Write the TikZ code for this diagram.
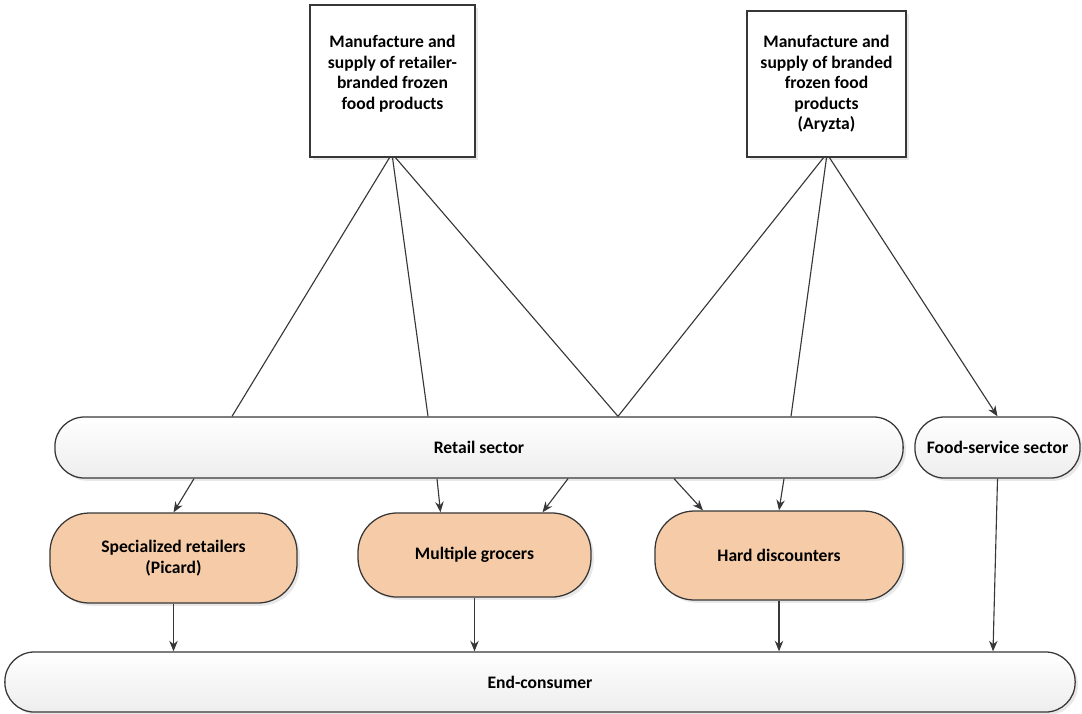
\documentclass[tikz,border=0pt]{standalone}
\usepackage{fontspec}
\setmainfont{Carlito}
\usepackage{tikz}
\usetikzlibrary{calc}
\usetikzlibrary{shadows}
\usetikzlibrary{arrows.meta}
\definecolor{peach}{RGB}{246,204,168}
\definecolor{linegray}{RGB}{55,55,55}

\begin{document}
\begin{tikzpicture}[x=0.025cm,y=-0.025cm]
		\tikzstyle{boxtext}=[font=\fontsize{12.5}{14.6}\selectfont\bfseries, align=center]
		\tikzstyle{maker}=[boxtext, draw=linegray, fill=white, line width=.9pt, drop shadow={shadow xshift=2pt, shadow yshift=-2pt, fill=black!18}]
		\tikzstyle{sector}=[boxtext, draw=linegray, top color=white, bottom color=black!7, line width=.9pt, minimum height=43.4pt, rounded corners=21pt, drop shadow={shadow xshift=2pt, shadow yshift=-2pt, fill=black!18}]
		\tikzstyle{shop}=[boxtext, draw=linegray, fill=peach, line width=.9pt, rounded corners=28pt, drop shadow={shadow xshift=2pt, shadow yshift=-2pt, fill=black!18}]
		\tikzstyle{link}=[draw=linegray, line width=.8pt]
		\tikzstyle{flow}=[link, -{Stealth[length=7.5pt, width=6pt]}]
		\useasboundingbox (0,0) rectangle (1082,713);

		% suppliers
		\node[maker, minimum width=117.4pt, minimum height=108.1pt] (mfr1) at (392.5,81) {Manufacture and\\supply of retailer-\\branded frozen\\food products\\[-2pt]};
		\node[maker, minimum width=113.1pt, minimum height=103.9pt] (mfr2) at (826.5,84) {Manufacture and\\supply of branded\\frozen food\\products\\(Aryzta)};

		% sectors
		\node[sector, minimum width=603.2pt] (retail) at (479,447.5) {Retail sector};
		\node[sector, minimum width=117.4pt] (food) at (997.5,447.5) {Food-service sector};

		% retail formats
		\node[shop, minimum width=175.7pt, minimum height=64pt] (spec) at (173.5,558) {Specialized retailers\\(Picard)};
		\node[shop, minimum width=165.7pt, minimum height=59.8pt] (grocer) at (474.5,555) {Multiple grocers};
		\node[shop, minimum width=176.4pt, minimum height=63.3pt] (hard) at (779,555.5) {Hard discounters};

		\node[sector, minimum width=761.1pt, minimum height=42.7pt] (end) at (540,682) {End-consumer};

		\coordinate (r1) at ($(retail.north)+(-247,0)$);
		\coordinate (r2) at ($(retail.north)+(-51,0)$);
		\coordinate (r3) at ($(retail.north)+(139,0)$);
		\coordinate (r4) at ($(retail.north)+(312,0)$);

		\draw[link] ($(mfr1.south)+(-3,0)$) -- (r1);
		\draw[link] (mfr1.south) -- (r2);
		\draw[link] ($(mfr1.south)+(3,0)$) -- (r3);
		\draw[link] ($(mfr2.south)+(-3,0)$) -- (r3);
		\draw[link] (mfr2.south) -- (r4);
		\draw[flow] ($(mfr2.south)+(3,0)$) -- (food.north);

		% retail sector to formats
		\draw[flow] ($(retail.south)+(-285,0)$) -- (spec.north);
		\draw[flow] ($(retail.south)+(-42,0)$) -- ($(grocer.north)+(-34,0)$);
		\draw[flow] ($(retail.south)+(89,0)$) -- ($(grocer.north)+(68,0)$);
		\draw[flow] ($(retail.south)+(195,0)$) -- ($(hard.north)+(-76,0)$);
		\draw[flow] ($(retail.south)+(305,0)$) -- (hard.north);

		% to end-consumer
		\draw[flow] (spec.south) -- (spec.south |- end.north);
		\draw[flow] (grocer.south) -- (grocer.south |- end.north);
		\draw[flow] (hard.south) -- (hard.south |- end.north);
		\draw[flow] (food.south) -- ($(end.north)+(453,0)$);
\end{tikzpicture}
\end{document}
